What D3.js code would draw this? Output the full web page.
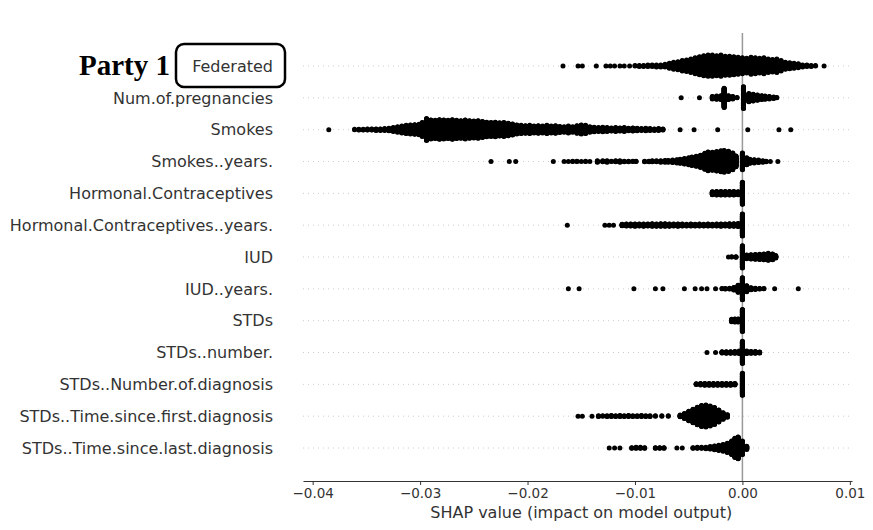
<!DOCTYPE html>
<html>
<head>
<meta charset="utf-8">
<script src="https://cdn.jsdelivr.net/npm/d3@7"></script>
<style>
  html, body { margin: 0; padding: 0; background: #fff; }
  svg { display: block; }
</style>
</head>
<body>
<svg id="chart" width="873" height="530"></svg>
<script>
// ---------- DATA (SHAP value, number of samples at that value) ----------
const features = [
  "Federated", "Num.of.pregnancies", "Smokes", "Smokes..years.",
  "Hormonal.Contraceptives", "Hormonal.Contraceptives..years.", "IUD", "IUD..years.",
  "STDs", "STDs..number.", "STDs..Number.of.diagnosis",
  "STDs..Time.since.first.diagnosis", "STDs..Time.since.last.diagnosis"
];

const federated = [
  [-0.0167,1],[-0.0153,1],[-0.0149,1],[-0.0136,1],[-0.0127,1],[-0.0123,1],[-0.0119,1],[-0.0114,1],[-0.0110,1],[-0.0105,1],
  [-0.0100,2],[-0.0096,3],[-0.0092,3],[-0.0088,4],[-0.0084,4],[-0.0080,5],[-0.0076,5],[-0.0072,6],[-0.0068,10],[-0.0064,14],
  [-0.0060,16],[-0.0056,20],[-0.0052,22],[-0.0048,26],[-0.0044,30],[-0.0040,34],[-0.0036,38],[-0.0032,40],[-0.0028,40],[-0.0024,38],
  [-0.0020,40],[-0.0016,36],[-0.0012,36],[-0.0008,34],[-0.0004,32],[0.0000,30],[0.0004,28],[0.0008,32],[0.0012,30],[0.0016,28],
  [0.0020,30],[0.0024,26],[0.0028,24],[0.0032,26],[0.0036,20],[0.0040,14],[0.0044,12],[0.0048,10],[0.0052,8],[0.0056,5],
  [0.0060,4],[0.0064,3],[0.0068,2],[0.0076,1]
];
const numPregnancies = [
  [-0.0057,1],[-0.0040,1],[-0.0028,8],[-0.0024,10],[-0.0020,12],[-0.0017,55],[-0.0013,12],[-0.0009,8],[-0.0005,2],
  [0.0001,62],[0.0006,24],[0.0010,20],[0.0014,16],[0.0018,12],[0.0021,10],[0.0025,8],[0.0029,5],[0.0032,2]
];
const smokes = [
  [-0.0385,1],
  [-0.0361,2],[-0.0357,3],[-0.0353,3],[-0.0349,4],[-0.0345,4],[-0.0341,5],[-0.0337,5],[-0.0333,6],[-0.0329,8],[-0.0325,12],
  [-0.0321,16],[-0.0317,20],[-0.0313,24],[-0.0309,26],[-0.0305,28],[-0.0301,30],[-0.0298,40],[-0.0294,62],[-0.0290,54],[-0.0286,52],
  [-0.0282,56],[-0.0278,54],[-0.0274,52],[-0.0270,56],[-0.0266,52],[-0.0262,50],[-0.0258,54],[-0.0254,50],[-0.0250,48],[-0.0246,50],
  [-0.0242,46],[-0.0238,42],[-0.0234,40],[-0.0230,42],[-0.0226,38],[-0.0222,40],[-0.0218,36],[-0.0214,32],[-0.0210,26],[-0.0206,24],
  [-0.0202,22],[-0.0198,24],[-0.0194,20],[-0.0190,22],[-0.0186,20],[-0.0182,24],[-0.0178,20],[-0.0174,22],[-0.0170,18],[-0.0166,16],
  [-0.0162,20],[-0.0158,16],[-0.0154,22],[-0.0150,26],[-0.0146,24],[-0.0142,16],[-0.0138,14],[-0.0134,12],[-0.0130,14],[-0.0126,12],
  [-0.0122,10],[-0.0118,12],[-0.0114,10],[-0.0110,12],[-0.0106,8],[-0.0102,10],[-0.0098,8],[-0.0094,6],[-0.0090,8],[-0.0086,6],
  [-0.0082,5],[-0.0078,6],[-0.0074,4],
  [-0.0058,1],[-0.0045,1],[-0.0023,1],[0.0005,1],[0.0034,1],[0.0045,1]
];
const smokesYears = [
  [-0.0234,1],[-0.0217,1],[-0.0211,1],[-0.0176,1],
  [-0.0166,1],[-0.0162,1],[-0.0158,2],[-0.0154,2],[-0.0150,1],[-0.0146,2],[-0.0142,1],
  [-0.0135,5],[-0.0130,4],[-0.0126,5],[-0.0122,2],[-0.0118,4],[-0.0114,5],[-0.0110,3],[-0.0106,3],[-0.0102,2],[-0.0099,2],
  [-0.0091,3],[-0.0087,3],[-0.0084,4],[-0.0080,4],[-0.0076,5],[-0.0072,6],[-0.0069,6],[-0.0065,8],[-0.0061,10],[-0.0058,12],
  [-0.0054,16],[-0.0050,20],[-0.0047,24],[-0.0043,28],[-0.0039,34],[-0.0035,44],[-0.0032,52],[-0.0028,50],[-0.0024,54],[-0.0020,58],
  [-0.0017,60],[-0.0013,56],[-0.0009,46],[-0.0006,30],[0.0000,46],[0.0004,20],[0.0007,12],[0.0011,10],[0.0015,8],[0.0019,5],
  [0.0022,3],[0.0026,1],[0.0033,1]
];
const hormonal = [
  [-0.0028,12],[-0.0024,14],[-0.0020,14],[-0.0016,14],[-0.0012,14],[-0.0008,14],[-0.0004,12],[0.0000,80]
];
const hormonalYears = [
  [-0.0163,1],[-0.0128,1],[-0.0124,1],[-0.0120,1],
  [-0.0112,6],[-0.0108,8],[-0.0104,8],[-0.0100,9],[-0.0096,8],[-0.0092,9],[-0.0088,8],[-0.0084,10],[-0.0080,9],[-0.0076,10],
  [-0.0072,10],[-0.0068,9],[-0.0064,8],[-0.0060,9],[-0.0056,8],[-0.0052,7],[-0.0048,8],[-0.0044,7],[-0.0040,8],[-0.0036,7],
  [-0.0032,8],[-0.0028,7],[-0.0024,8],[-0.0020,9],[-0.0016,8],[-0.0012,10],[-0.0008,10],[-0.0004,12],[0.0000,80]
];
const iud = [
  [-0.0013,1],[-0.0010,2],[-0.0006,3],[0.0000,80],[0.0004,14],[0.0008,16],[0.0012,18],[0.0016,20],[0.0020,22],[0.0024,26],
  [0.0028,22],[0.0031,10]
];
const iudYears = [
  [-0.0162,1],[-0.0152,1],[-0.0101,1],[-0.0081,1],[-0.0074,1],[-0.0054,1],[-0.0044,1],[-0.0038,1],[-0.0033,1],[-0.0025,1],
  [-0.0019,2],[-0.0016,3],[-0.0012,4],[-0.0008,10],[-0.0004,26],[0.0000,80],[0.0004,22],[0.0008,8],[0.0012,5],[0.0016,3],
  [0.0020,2],[0.0030,1],[0.0052,1]
];
const stds = [
  [-0.0010,10],[-0.0007,12],[-0.0004,12],[0.0000,80]
];
const stdsNumber = [
  [-0.0033,1],[-0.0025,1],[-0.0019,6],[-0.0015,7],[-0.0011,7],[-0.0007,8],[-0.0003,10],[0.0000,80],[0.0004,10],[0.0008,8],
  [0.0012,8],[0.0016,5]
];
const stdsDiagnosis = [
  [-0.0043,4],[-0.0039,6],[-0.0035,7],[-0.0031,7],[-0.0027,7],[-0.0023,7],[-0.0019,7],[-0.0015,7],[-0.0011,7],[-0.0007,6],
  [0.0000,80]
];
const stdsFirst = [
  [-0.0153,1],[-0.0149,1],[-0.0140,1],[-0.0134,3],[-0.0130,2],[-0.0126,3],[-0.0122,4],[-0.0118,3],[-0.0114,4],[-0.0110,3],
  [-0.0106,4],[-0.0102,3],[-0.0098,3],[-0.0094,4],[-0.0090,3],[-0.0086,3],[-0.0081,2],[-0.0075,2],[-0.0069,2],
  [-0.0058,6],[-0.0054,16],[-0.0050,28],[-0.0046,40],[-0.0042,52],[-0.0038,62],[-0.0034,64],[-0.0030,58],[-0.0026,50],
  [-0.0022,36],[-0.0018,20],[-0.0014,8]
];
const stdsLast = [
  [-0.0124,1],[-0.0119,1],[-0.0114,1],[-0.0103,3],[-0.0099,4],[-0.0095,4],[-0.0091,3],[-0.0081,3],[-0.0077,3],[-0.0073,3],
  [-0.0061,1],[-0.0056,1],[-0.0046,3],[-0.0042,4],[-0.0038,4],[-0.0034,5],[-0.0030,8],[-0.0026,12],[-0.0022,16],[-0.0018,20],
  [-0.0014,28],[-0.0010,40],[-0.0007,56],[-0.0004,64],[0.0000,40],[0.0004,10]
];
const rows = [federated, numPregnancies, smokes, smokesYears, hormonal, hormonalYears, iud, iudYears,
              stds, stdsNumber, stdsDiagnosis, stdsFirst, stdsLast];

const xTicks = [-0.04, -0.03, -0.02, -0.01, 0.00, 0.01];
const xLabel = "SHAP value (impact on model output)";
const partyLabel = "Party 1";

// ---------- LAYOUT ----------
const svg = d3.select("#chart");
const x = d3.scaleLinear().domain([-0.0409, 0.0102]).range([303, 852]);
const y = d3.scaleLinear().domain([0, features.length - 1]).range([66, 448]);
const rowStep = y(1) - y(0);
const axisY = 481;

// grid lines (dotted)
svg.append("g").selectAll("line").data(features).join("line")
  .attr("x1", x.range()[0]).attr("x2", x.range()[1])
  .attr("y1", (d, i) => y(i)).attr("y2", (d, i) => y(i))
  .attr("stroke", "#cccccc").attr("stroke-width", 1).attr("stroke-dasharray", "1,4");

// zero line
svg.append("line")
  .attr("x1", x(0)).attr("x2", x(0)).attr("y1", 33).attr("y2", axisY)
  .attr("stroke", "#999999").attr("stroke-width", 1.5);

// beeswarm points (SHAP-style stacking)
const points = [];
rows.forEach((row, i) => {
  let maxOff = 0;
  row.forEach(([v, c]) => { maxOff = Math.max(maxOff, Math.ceil((c - 1) / 2)); });
  const s = 0.9 * 0.4 * rowStep / (maxOff + 1);
  row.forEach(([v, c]) => {
    for (let k = 0; k < c; k++) {
      const off = Math.ceil(k / 2) * ((k % 2) * 2 - 1);
      points.push({ v, row: i, off: off * s });
    }
  });
});
svg.append("g").selectAll("circle").data(points).join("circle")
  .attr("cx", d => x(d.v))
  .attr("cy", d => y(d.row) - d.off)
  .attr("r", 2.5)
  .attr("fill", "#000");

// feature labels
svg.append("g").selectAll("text").data(features).join("text")
  .attr("x", 273).attr("y", (d, i) => y(i)).attr("dy", "0.36em")
  .attr("text-anchor", "end")
  .attr("font-family", "DejaVu Sans, sans-serif").attr("font-size", 16)
  .attr("fill", "#333333")
  .text(d => d);

// box around first label
svg.append("rect")
  .attr("x", 176).attr("y", 44).attr("width", 109).attr("height", 43).attr("rx", 8)
  .attr("fill", "none").attr("stroke", "#000").attr("stroke-width", 2.5);

// party label
svg.append("text")
  .attr("x", 170).attr("y", 75).attr("text-anchor", "end")
  .attr("font-family", "Liberation Serif, Times New Roman, serif").attr("font-weight", "bold")
  .attr("font-size", 29).attr("fill", "#000")
  .text(partyLabel);

// x axis
const axis = d3.axisBottom(x).tickValues(xTicks).tickFormat(d3.format(".2f"))
  .tickSizeInner(4).tickSizeOuter(0).tickPadding(3);
const gx = svg.append("g").attr("transform", `translate(0,${axisY})`).call(axis);
gx.select(".domain").attr("stroke", "#333333").attr("stroke-width", 1);
gx.selectAll(".tick line").attr("stroke", "#333333");
gx.selectAll(".tick text").attr("fill", "#333333")
  .attr("font-family", "DejaVu Sans, sans-serif").attr("font-size", 13.5);

svg.append("text")
  .attr("x", x(-0.015)).attr("y", 518).attr("text-anchor", "middle")
  .attr("font-family", "DejaVu Sans, sans-serif").attr("font-size", 16)
  .attr("fill", "#333333")
  .text(xLabel);
</script>
</body>
</html>
